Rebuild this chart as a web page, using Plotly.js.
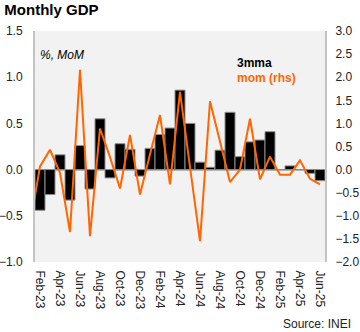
<!DOCTYPE html>
<html>
<head>
<meta charset="utf-8">
<script src="https://cdn.plot.ly/plotly-3.0.1.min.js"></script>
<style>html,body{margin:0;padding:0;background:#fff;}#chart{width:360px;height:332px;}</style>
</head>
<body>
<div id="chart"></div>
<script>
// Data
const months = ['Jan-23','Feb-23','Mar-23','Apr-23','May-23','Jun-23','Jul-23','Aug-23','Sep-23','Oct-23','Nov-23','Dec-23',
  'Jan-24','Feb-24','Mar-24','Apr-24','May-24','Jun-24','Jul-24','Aug-24','Sep-24','Oct-24','Nov-24','Dec-24',
  'Jan-25','Feb-25','Mar-25','Apr-25','May-25','Jun-25'];
const mma3 = [null, -0.44, -0.27, 0.16, -0.33, 0.26, -0.21, 0.55, -0.09, 0.28, 0.22, -0.07,
  0.23, 0.38, 0.45, 0.86, 0.50, 0.08, 0.025, 0.21, 0.62, 0.14, 0.30, 0.32,
  0.41, 0.0, 0.04, 0.0, -0.04, -0.12];
const mom = [-1.2, 0.07, 0.43, -0.07, -1.35, 2.16, -1.44, 0.89, 0.27, -0.41, 0.75, -0.54,
  0.33, 1.18, -0.32, 1.68, 0.06, -1.55, 1.48, 0.60, -0.27, 0.0, 1.10, -0.21,
  0.28, -0.11, -0.11, 0.20, -0.20, -0.32];
const tickLabels = ['Feb-23','Apr-23','Jun-23','Aug-23','Oct-23','Dec-23','Feb-24','Apr-24','Jun-24','Aug-24','Oct-24','Dec-24','Feb-25','Apr-25','Jun-25'];

const FONT = 'Liberation Sans, Arial, sans-serif';
const ORANGE = '#ff6600';

const traces = [
  {
    type: 'bar', x: months, y: mma3, name: '3mma',
    marker: {color: '#000000', line: {color: '#8c8c8c', width: 1}},
    yaxis: 'y', hoverinfo: 'x+y'
  },
  {
    type: 'scatter', mode: 'lines', x: months, y: mom, name: 'mom (rhs)',
    line: {color: ORANGE, width: 2}, yaxis: 'y2'
  }
];

const layout = {
  width: 360, height: 332,
  margin: {l: 35, r: 35, t: 31, b: 70, pad: 0},
  paper_bgcolor: '#ffffff', plot_bgcolor: '#f2f2f2',
  showlegend: false, bargap: 0,
  font: {family: FONT, size: 12, color: '#222'},
  title: {text: '<b>Monthly GDP</b>', x: 0.012, xanchor: 'left', y: 0.985, yanchor: 'top',
          font: {family: FONT, size: 15, color: '#000'}},
  xaxis: {
    type: 'category', range: [0.5, 29.5],
    tickmode: 'array', tickvals: tickLabels, ticktext: tickLabels,
    tickangle: 90, ticks: 'outside', ticklen: 5, tickcolor: 'rgba(0,0,0,0)',
    showgrid: false, showline: false, zeroline: false,
    tickfont: {family: FONT, size: 12, color: '#222'}
  },
  yaxis: {
    range: [-1, 1.5], dtick: 0.5, tick0: 0, tickformat: '.1f',
    showgrid: false, zeroline: true, zerolinecolor: '#b8b8b8', zerolinewidth: 2,
    showline: true, linecolor: '#c4c4c4', linewidth: 2,
    ticks: 'outside', ticklen: 8, tickcolor: 'rgba(0,0,0,0)',
    tickfont: {family: FONT, size: 12, color: '#222'}
  },
  yaxis2: {
    overlaying: 'y', side: 'right',
    range: [-2, 3], dtick: 0.5, tick0: 0, tickformat: '.1f',
    showgrid: false, zeroline: false,
    showline: true, linecolor: '#c4c4c4', linewidth: 2,
    ticks: 'outside', ticklen: 6, tickcolor: 'rgba(0,0,0,0)',
    tickfont: {family: FONT, size: 12, color: '#222'}
  },
  annotations: [
    {text: '<i>%, MoM</i>', xref: 'paper', yref: 'paper', x: 0.01, y: 0.895, xanchor: 'left', yanchor: 'middle',
     showarrow: false, font: {family: FONT, size: 12, color: '#000'}},
    {text: '<b>3mma</b>', xref: 'paper', yref: 'paper', x: 0.69, y: 0.86, xanchor: 'left', yanchor: 'middle',
     showarrow: false, font: {family: FONT, size: 12, color: '#000'}},
    {text: '<b>mom (rhs)</b>', xref: 'paper', yref: 'paper', x: 0.69, y: 0.795, xanchor: 'left', yanchor: 'middle',
     showarrow: false, font: {family: FONT, size: 12, color: ORANGE}},
    {text: 'Source: INEI', xref: 'paper', yref: 'paper', x: 1.095, y: -0.27, xanchor: 'right', yanchor: 'middle',
     showarrow: false, font: {family: FONT, size: 12, color: '#222'}}
  ]
};

Plotly.newPlot('chart', traces, layout, {staticPlot: true, displayModeBar: false});
</script>
</body>
</html>
